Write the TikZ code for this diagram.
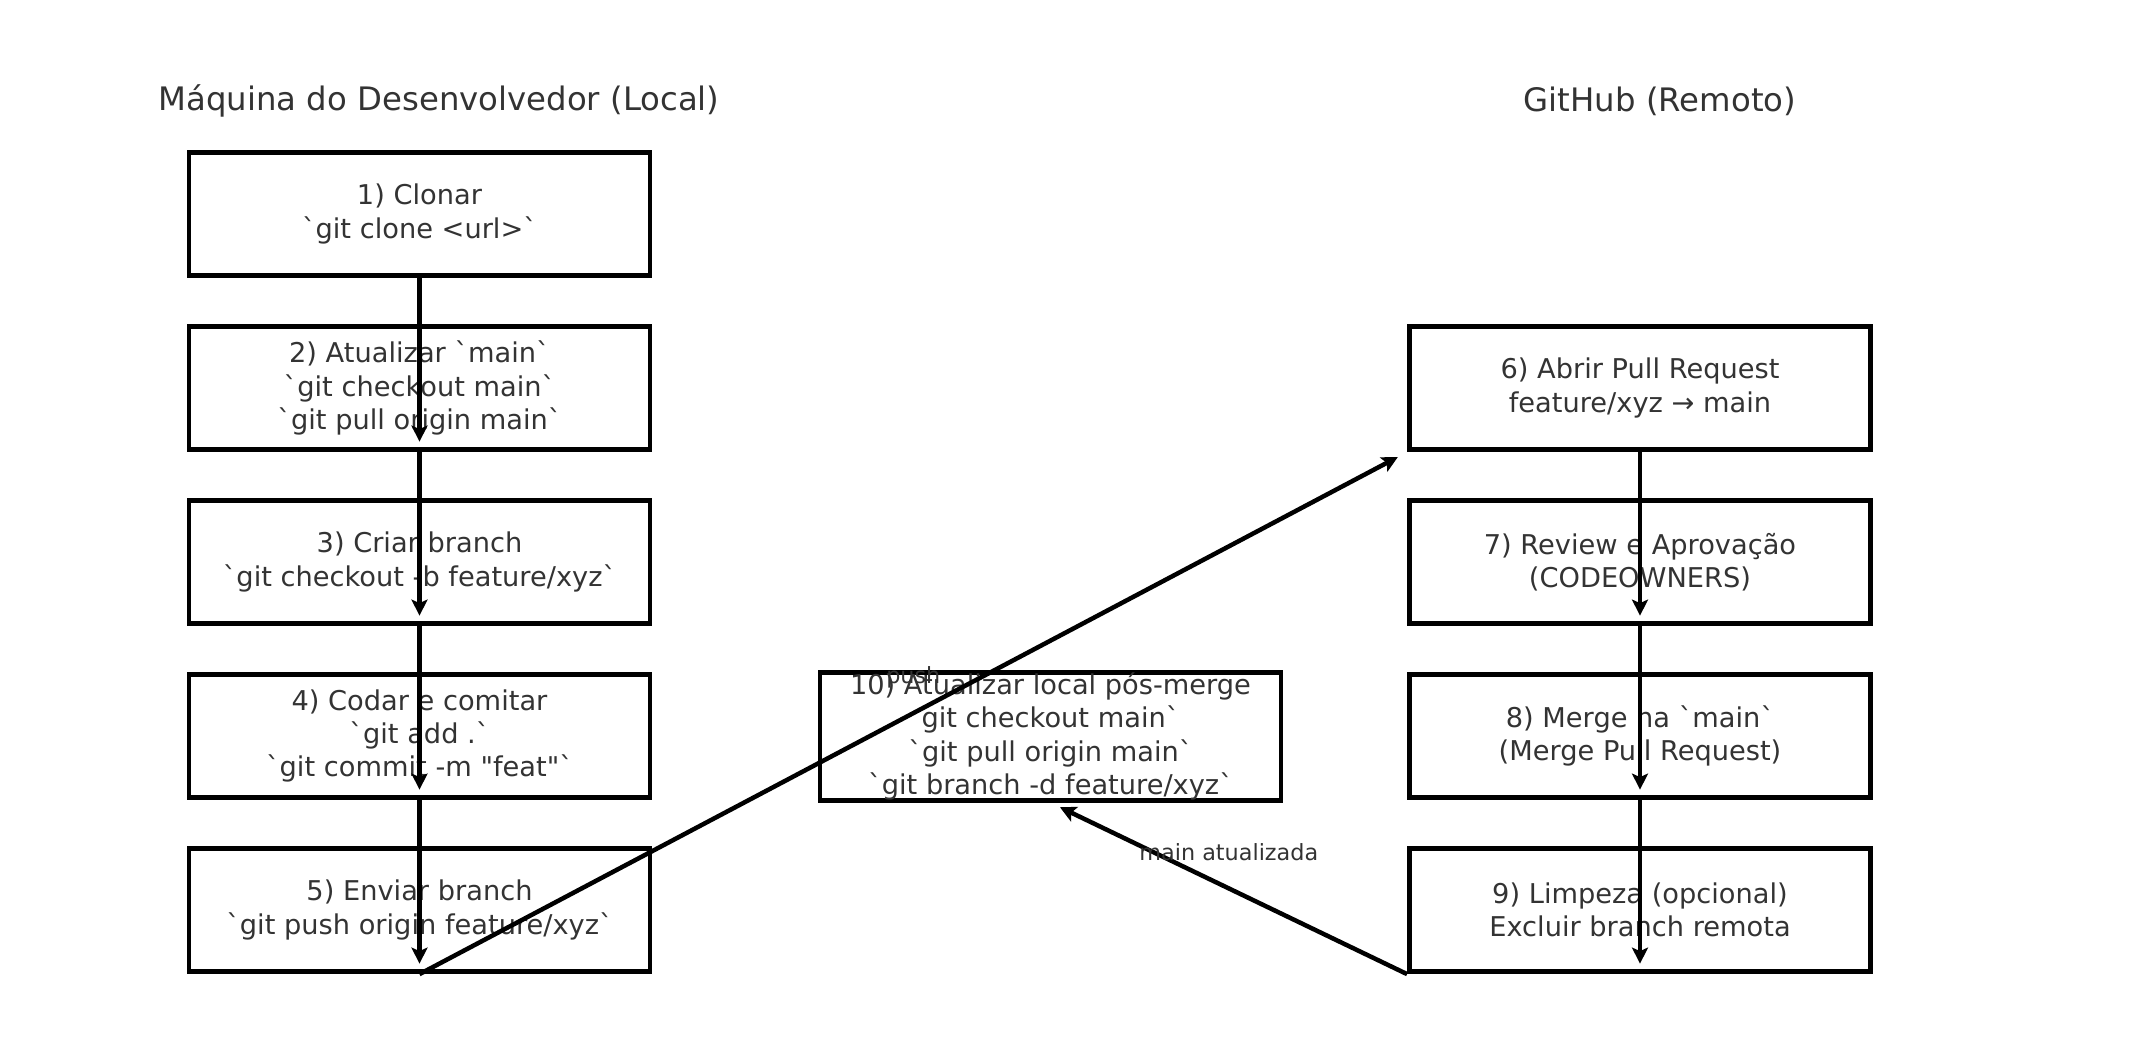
\documentclass[tikz,border=0pt]{standalone}
\usepackage{fontspec}
\setmainfont{DejaVu Sans}[Ligatures=TeXOff]
\usetikzlibrary{arrows.meta}
\definecolor{TextGray}{HTML}{333333}

\begin{document}
\begin{tikzpicture}[x=0.2mm, y=-0.2mm,
  every node/.style={text=TextGray},
  stepbox/.style={draw=black, line width=0.95mm, minimum width=92.2mm,
    minimum height=24.7mm, inner sep=0pt, align=center,
    font=\fontsize{15.5}{19}\selectfont},
  heading/.style={font=\fontsize{18.4}{22}\selectfont},
  edgelabel/.style={font=\fontsize{12.7}{15}\selectfont, yshift=7.2mm},
  flow/.style={-{Stealth[length=3.2mm, width=3.2mm, inset=0.7mm]},
    line width=0.9mm, shorten >=2.1mm}]
  \useasboundingbox (0,0) rectangle (2141,1062);

  \node[heading] (local)  at (439,101)  {Máquina do Desenvolvedor (Local)};
  \node[heading] (remote) at (1660,101) {GitHub (Remoto)};

  % maquina local
  \node[stepbox] (s1) at (419.5,214) {1) Clonar\\`git clone <url>`};
  \node[stepbox] (s2) at (419.5,388) {2) Atualizar `main`\\`git checkout main`\\`git pull origin main`};
  \node[stepbox] (s3) at (419.5,562) {3) Criar branch\\`git checkout -b feature/xyz`};
  \node[stepbox] (s4) at (419.5,736) {4) Codar e comitar\\`git add .`\\`git commit -m "feat"`};
  \node[stepbox] (s5) at (419.5,910) {5) Enviar branch\\`git push origin feature/xyz`};

  % github
  \node[stepbox] (s6) at (1640,388) {6) Abrir Pull Request\\feature/xyz → main};
  \node[stepbox] (s7) at (1640,562) {7) Review e Aprovação\\(CODEOWNERS)};
  \node[stepbox] (s8) at (1640,736) {8) Merge na `main`\\(Merge Pull Request)};
  \node[stepbox] (s9) at (1640,910) {9) Limpeza (opcional)\\Excluir branch remota};

  \node[stepbox] (s10) at (1050.5,736.5) {10) Atualizar local pós-merge\\git checkout main`\\`git pull origin main`\\`git branch -d feature/xyz`};

  \foreach \a/\b in {s1/s2,s2/s3,s3/s4,s4/s5,s6/s7,s7/s8,s8/s9}{%
    \draw[flow] (\a.south) -- (\b.south);
  }

  \draw[flow] (s5.south) -- node[edgelabel] {push} (s6.south west);
  \draw[flow] (s9.south west) -- node[edgelabel] {main atualizada} (s10.south);
\end{tikzpicture}
\end{document}
